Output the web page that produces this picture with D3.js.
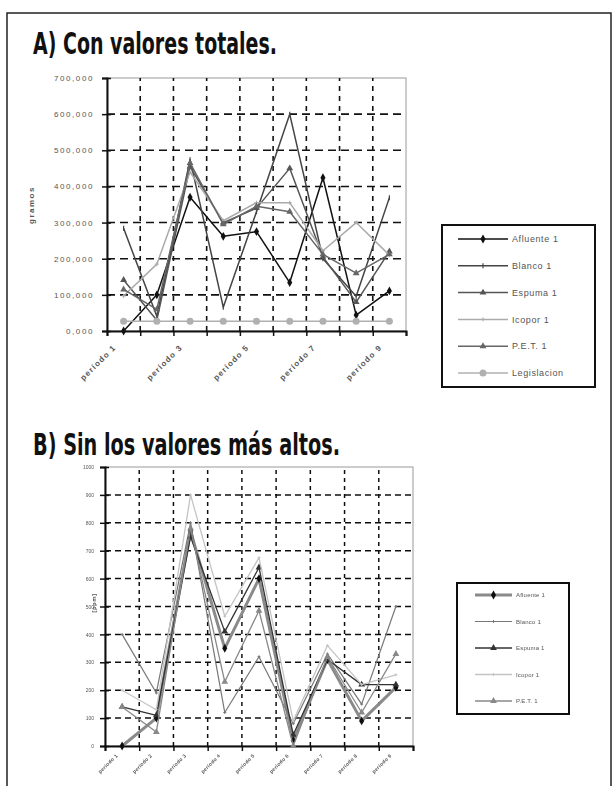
<!DOCTYPE html>
<html>
<head>
<meta charset="utf-8">
<script src="https://cdn.jsdelivr.net/npm/d3@7"></script>
<style>
  html, body { margin: 0; padding: 0; background: #fff; }
  svg { display: block; }
  .lbl { font-family: "Liberation Sans", Arial, sans-serif; fill: #555; }
  .ttl { font-family: "Liberation Sans Narrow", "DejaVu Sans Condensed", sans-serif; font-weight: bold; fill: #111; }
</style>
</head>
<body>
<svg id="fig" width="616" height="786"></svg>
<script>
// ---- shared categories ----
const periods = ["período 1", "período 2", "período 3", "período 4", "período 5",
                 "período 6", "período 7", "período 8", "período 9"];
const shownPeriodsA = ["período 1", "período 3", "período 5", "período 7", "período 9"];

// ---- panel A: total values ----
const yTicksA = [0, 100, 200, 300, 400, 500, 600, 700];
const afluenteA    = [0, 100, 370, 262, 275, 134, 424, 44, 111];
const blancoA      = [284, 41, 474, 66, 330, 600, 200, 96, 369];
const espumaA      = [141, 30, 455, 300, 340, 450, 205, 80, 220];
const icoporA      = [97, 185, 440, 305, 355, 355, 222, 300, 210];
const petA         = [115, 60, 465, 295, 345, 330, 212, 160, 212];
const legislacionA = [27, 27, 27, 27, 27, 27, 27, 27, 27];

// ---- panel B: without the highest values ----
const yTicksB = [0, 100, 200, 300, 400, 500, 600, 700, 800, 900, 1000];
const afluenteB = [0, 100, 770, 350, 600, 20, 310, 90, 210];
const blancoB   = [400, 190, 800, 120, 320, 80, 330, 150, 500];
const espumaB   = [140, 110, 750, 410, 640, 40, 310, 220, 220];
const icoporB   = [200, 130, 900, 465, 675, 90, 360, 220, 255];
const petB      = [140, 50, 780, 230, 485, 0, 320, 120, 330];

const esLocale = d3.formatLocale({decimal: ",", thousands: ".", grouping: [3], currency: ["", ""]});
const fmtA = esLocale.format(".3f");

const svg = d3.select("#fig");

svg.append("defs").append("filter").attr("id", "soft")
  .append("feGaussianBlur").attr("stdDeviation", 0.55);

// outer frame (open at the bottom of the page)
svg.append("path")
  .attr("d", "M7,790 L7,13 L611,13 L611,790")
  .attr("fill", "none").attr("stroke", "#222").attr("stroke-width", 1.5);

svg.append("text").attr("class", "ttl").attr("x", 33).attr("y", 54)
  .attr("font-size", 31).attr("textLength", 244).attr("lengthAdjust", "spacingAndGlyphs")
  .text("A) Con valores totales.");
svg.append("text").attr("class", "ttl").attr("x", 33).attr("y", 455)
  .attr("font-size", 31).attr("textLength", 307).attr("lengthAdjust", "spacingAndGlyphs")
  .text("B) Sin los valores más altos.");

// marker drawing helper
function marker(g, type, x, y, s, color) {
  if (type === "diamond") {
    g.append("path").attr("d", d3.symbol(d3.symbolDiamond, s * s * 0.9)())
      .attr("transform", `translate(${x},${y})`).attr("fill", color);
  } else if (type === "triangle") {
    g.append("path").attr("d", d3.symbol(d3.symbolTriangle, s * s * 0.8)())
      .attr("transform", `translate(${x},${y})`).attr("fill", color);
  } else if (type === "circle") {
    g.append("circle").attr("cx", x).attr("cy", y).attr("r", s / 2).attr("fill", color);
  } else if (type === "plus") {
    g.append("path").attr("d", `M${x - s / 2},${y}H${x + s / 2}M${x},${y - s / 2}V${y + s / 2}`)
      .attr("stroke", color).attr("stroke-width", 1);
  } else if (type === "dash") {
    g.append("path").attr("d", `M${x},${y - s / 2}V${y + s / 2}`)
      .attr("stroke", color).attr("stroke-width", 1.2);
  }
}

function panel(opts) {
  const g = svg.append("g");
  if (opts.blur) g.attr("filter", "url(#soft)");
  const {x0, x1, y0, y1} = opts;
  const x = d3.scaleBand().domain(periods).range([x0, x1]);
  const xb = d3.scaleLinear().domain([0, periods.length]).range([x0, x1]);
  const y = d3.scaleLinear().domain(opts.yDomain).range([y0, y1]);

  // plot border (top / right light)
  g.append("rect").attr("x", x0).attr("y", y1).attr("width", x1 - x0).attr("height", y0 - y1)
    .attr("fill", "#fff").attr("stroke", "#999").attr("stroke-width", 1);

  // dashed grid
  g.append("g").selectAll("line").data(opts.yTicks.slice(1, -1)).join("line")
    .attr("x1", x0).attr("x2", x1).attr("y1", d => y(d)).attr("y2", d => y(d))
    .attr("stroke", "#111").attr("stroke-width", opts.gridW)
    .attr("stroke-dasharray", opts.hDash);
  g.append("g").selectAll("line").data(d3.range(1, periods.length)).join("line")
    .attr("x1", d => xb(d)).attr("x2", d => xb(d)).attr("y1", y0).attr("y2", y1)
    .attr("stroke", "#111").attr("stroke-width", opts.gridW)
    .attr("stroke-dasharray", opts.vDash);

  // axes
  const ya = g.append("g").attr("transform", `translate(${x0},0)`)
    .call(d3.axisLeft(y).tickValues(opts.yTicks).tickFormat(opts.fmt).tickSize(5).tickPadding(opts.pad));
  ya.select(".domain").attr("stroke", "#111").attr("stroke-width", 2);
  ya.selectAll(".tick line").attr("x1", 4).attr("stroke", "#111").attr("stroke-width", 1.5);
  ya.selectAll(".tick text").attr("class", "lbl").attr("font-size", opts.yFont)
    .attr("letter-spacing", opts.yLS).attr("fill", "#777");

  const xa = g.append("g").attr("transform", `translate(0,${y0})`)
    .call(d3.axisBottom(xb).tickValues(d3.range(0, periods.length + 1)).tickFormat("").tickSize(5));
  xa.select(".domain").attr("stroke", "#111").attr("stroke-width", 2);
  xa.selectAll(".tick line").attr("stroke", "#111").attr("stroke-width", 1.5);

  // category labels, rotated
  g.append("g").selectAll("text").data(opts.xLabels).join("text")
    .attr("class", "lbl")
    .attr("transform", d => `translate(${x(d) + x.bandwidth() / 2 + opts.lx},${y0 + opts.ly}) rotate(-45)`)
    .attr("text-anchor", "end").attr("font-size", opts.xFont).attr("font-weight", "bold")
    .attr("letter-spacing", opts.xLS).attr("fill", "#222")
    .text(d => d);

  // y title
  g.append("text").attr("class", "lbl")
    .attr("transform", `translate(${opts.tx},${opts.ty}) rotate(-90)`)
    .attr("text-anchor", "middle").attr("font-size", opts.tFont).attr("font-weight", "bold")
    .attr("letter-spacing", opts.tLS).attr("fill", "#111").text(opts.yTitle);

  // series
  const cx = d => x(d) + x.bandwidth() / 2;
  opts.series.forEach(s => {
    const line = d3.line().x((d, i) => cx(periods[i])).y(d => y(d));
    g.append("path").datum(s.values).attr("d", line)
      .attr("fill", "none").attr("stroke", s.color).attr("stroke-width", s.w)
      .attr("stroke-linejoin", "round");
    s.values.forEach((v, i) => marker(g, s.marker, cx(periods[i]), y(v), s.ms, s.mcolor || s.color));
  });

  // legend
  const L = opts.legend;
  const lg = svg.append("g");
  if (opts.blur) lg.attr("filter", "url(#soft)");
  lg.append("rect").attr("x", L.x).attr("y", L.y).attr("width", L.w).attr("height", L.h)
    .attr("fill", "#fff").attr("stroke", "#111").attr("stroke-width", 2);
  opts.series.forEach((s, i) => {
    const yy = L.y + L.first + i * L.step;
    lg.append("line").attr("x1", L.x + L.l0).attr("x2", L.x + L.l1).attr("y1", yy).attr("y2", yy)
      .attr("stroke", s.color).attr("stroke-width", s.w);
    marker(lg, s.marker, L.x + (L.l0 + L.l1) / 2, yy, s.ms, s.mcolor || s.color);
    lg.append("text").attr("class", "lbl").attr("x", L.x + L.tx).attr("y", yy)
      .attr("dy", "0.35em").attr("font-size", L.font).attr("letter-spacing", L.ls)
      .attr("fill", "#333").text(s.name);
  });
}

panel({
  x0: 107, x1: 406, y0: 331, y1: 78,
  yDomain: [0, 700], yTicks: yTicksA, fmt: fmtA, pad: 8, yFont: 8, yLS: 1.6,
  gridW: 1.6, hDash: "8,5", vDash: "5,5",
  xLabels: shownPeriodsA, lx: -7, ly: 17, xFont: 8, xLS: 1.2,
  yTitle: "gramos", tx: 34, ty: 205, tFont: 8, tLS: 1.5,
  series: [
    {name: "Afluente 1",  values: afluenteA,    color: "#111", w: 1.5, marker: "diamond",  ms: 5},
    {name: "Blanco 1",    values: blancoA,      color: "#444", w: 1.5, marker: "dash",     ms: 5},
    {name: "Espuma 1",    values: espumaA,      color: "#555", w: 1.5, marker: "triangle", ms: 5},
    {name: "Icopor 1",    values: icoporA,      color: "#aaa", w: 1.5, marker: "plus",     ms: 4},
    {name: "P.E.T. 1",    values: petA,         color: "#666", w: 1.5, marker: "triangle", ms: 5},
    {name: "Legislacion", values: legislacionA, color: "#b0b0b0", w: 1.5, marker: "circle", ms: 7}
  ],
  legend: {x: 442, y: 225, w: 153, h: 162, first: 14, step: 26.8, l0: 16, l1: 66, tx: 70, font: 9, ls: 0.6}
});

panel({
  x0: 105, x1: 413, y0: 746, y1: 467, blur: true,
  yDomain: [0, 1000], yTicks: yTicksB, fmt: d3.format("d"), pad: 6, yFont: 5, yLS: 0,
  gridW: 1.5, hDash: "6,4", vDash: "4,4",
  xLabels: periods, lx: -4, ly: 10, xFont: 5, xLS: 0.3,
  yTitle: "[ppm]", tx: 96, ty: 603, tFont: 6, tLS: 0.5,
  series: [
    {name: "Afluente 1", values: afluenteB, color: "#8a8a8a", w: 3,   marker: "diamond",  ms: 5, mcolor: "#111"},
    {name: "Blanco 1",   values: blancoB,   color: "#777",    w: 1.2, marker: "plus",     ms: 3},
    {name: "Espuma 1",   values: espumaB,   color: "#333",    w: 1.3, marker: "triangle", ms: 5},
    {name: "Icopor 1",   values: icoporB,   color: "#c4c4c4", w: 1.3, marker: "plus",     ms: 3},
    {name: "P.E.T. 1",   values: petB,      color: "#888",    w: 1.3, marker: "triangle", ms: 5}
  ],
  legend: {x: 457, y: 583, w: 112, h: 131, first: 12, step: 26.5, l0: 18, l1: 55, tx: 59, font: 6, ls: 0.2}
});
</script>
</body>
</html>
